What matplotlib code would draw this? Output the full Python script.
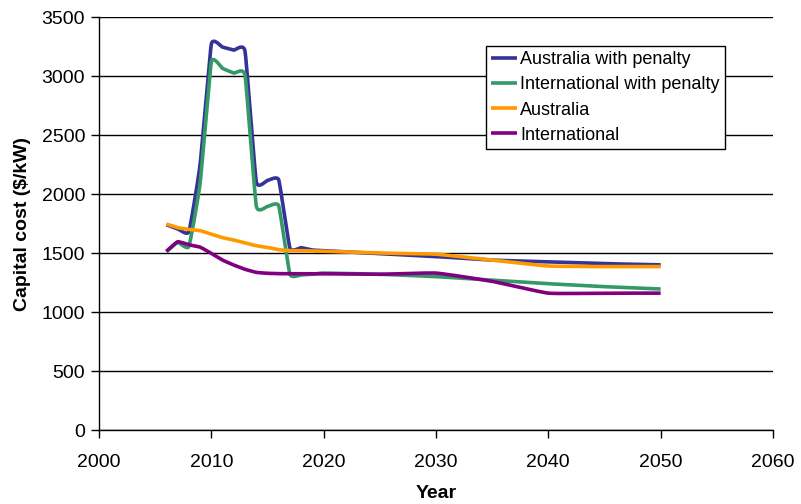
import numpy as np
import matplotlib
matplotlib.use('Agg')
import matplotlib.pyplot as plt

plt.rcParams['font.family'] = ['Liberation Sans', 'DejaVu Sans']

# Capital cost ($/kW) by year
years = [2006, 2007, 2008, 2009, 2010, 2011, 2012, 2013, 2014, 2015, 2016, 2017, 2018, 2019, 2020,
         2025, 2030, 2035, 2040, 2045, 2050]
aus_penalty = [1740, 1705, 1680, 2250, 3270, 3245, 3220, 3210, 2105, 2115, 2120, 1540, 1545, 1525, 1520,
               1495, 1470, 1440, 1425, 1410, 1400]
intl_penalty = [1510, 1590, 1555, 2090, 3120, 3065, 3025, 3005, 1900, 1895, 1900, 1320, 1315, 1320, 1330,
                1320, 1300, 1270, 1240, 1215, 1195]
aus = [1745, 1715, 1700, 1690, 1660, 1630, 1610, 1585, 1562, 1548, 1528, 1520, 1520, 1518, 1515,
       1500, 1490, 1440, 1390, 1385, 1385]
intl = [1515, 1595, 1570, 1550, 1497, 1440, 1398, 1362, 1336, 1328, 1325, 1325, 1325, 1325, 1325,
        1320, 1330, 1260, 1160, 1160, 1160]

labels = ['Australia with penalty', 'International with penalty', 'Australia', 'International']
colors = ['#333399', '#339966', '#FF9900', '#800080']


def smooth(x, y, k=0.4, n=20):
    # cardinal spline through the points, like a smoothed line in a spreadsheet
    p = np.column_stack([x, y]).astype(float)
    m = np.zeros_like(p)
    m[1:-1] = k * (p[2:] - p[:-2]) / 2
    m[0] = k * (p[1] - p[0])
    m[-1] = k * (p[-1] - p[-2])
    t = np.linspace(0, 1, n, endpoint=False)[:, None]
    h00 = 2 * t**3 - 3 * t**2 + 1
    h10 = t**3 - 2 * t**2 + t
    h01 = -2 * t**3 + 3 * t**2
    h11 = t**3 - t**2
    out = []
    for i in range(len(p) - 1):
        out.append(h00 * p[i] + h10 * m[i] + h01 * p[i + 1] + h11 * m[i + 1])
    out.append(p[-1:])
    out = np.vstack(out)
    return out[:, 0], out[:, 1]


fig = plt.figure(figsize=(8.01, 5.04), dpi=100)
ax = fig.add_axes([0.1236, 0.1468, 0.8414, 0.8194])

for series, lab, col in zip([aus_penalty, intl_penalty, aus, intl], labels, colors):
    sx, sy = smooth(years, series)
    ax.plot(sx, sy, color=col, linewidth=2.6, label=lab, solid_capstyle='butt')

ax.set_xlim(2000, 2060)
ax.set_ylim(0, 3500)
ax.set_xticks(range(2000, 2061, 10))
ax.set_yticks(range(0, 3501, 500))
ax.yaxis.grid(True, color='black', linewidth=1)
ax.set_axisbelow(True)
for s in ['top', 'right']:
    ax.spines[s].set_visible(False)
for s in ['left', 'bottom']:
    ax.spines[s].set_linewidth(1)
ax.tick_params(axis='both', direction='out', length=6, width=1, labelsize=14, colors='black')
ax.tick_params(axis='x', pad=11)
ax.tick_params(axis='y', pad=4)

ax.set_xlabel('Year', fontsize=14, fontweight='bold', labelpad=10)
ax.set_ylabel('Capital cost ($/kW)', fontsize=14, fontweight='bold', labelpad=8)

leg = ax.legend(loc='upper left', bbox_to_anchor=(0.574, 0.930), borderaxespad=0, fontsize=13,
                frameon=True, fancybox=False, handlelength=1.4, handletextpad=0.2,
                labelspacing=0.45, borderpad=0.3)
leg.get_frame().set_edgecolor('black')
leg.get_frame().set_linewidth(1)
leg.get_frame().set_alpha(1)

fig.savefig('out.png', dpi=100)
